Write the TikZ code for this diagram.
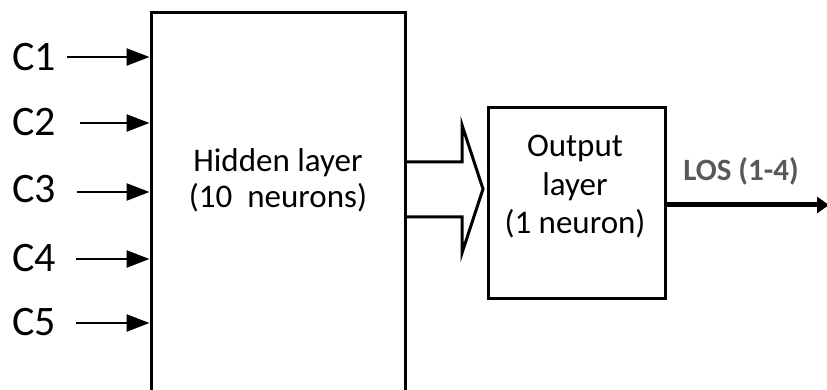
\documentclass[tikz,border=0pt]{standalone}
\usepackage{fontspec}
\setmainfont{Carlito}
\usetikzlibrary{arrows.meta,calc}
\definecolor{losgray}{HTML}{595959}
\begin{document}
\begin{tikzpicture}[x=1pt,y=-1pt,
  layerbox/.style={draw, line width=3pt, fill=none, inner sep=0pt},
  inlabel/.style={font=\fontsize{42}{46}\selectfont, anchor=center, inner sep=0pt},
  boxtext/.style={align=center, inner sep=0pt},
  inarrow/.style={line width=2.5pt, -{Triangle[length=23pt,width=17pt]}},
  outarrow/.style={line width=5pt, -{Triangle[length=12pt,width=16pt]}}
]
\useasboundingbox (0,0) rectangle (827,390);

% layer boxes
\node[layerbox, minimum width=254pt, minimum height=392pt] (hidden) at (278,209) {};
\node[layerbox, minimum width=177pt, minimum height=190pt] (out) at (576.5,203) {};

% box texts
\node[boxtext, font=\fontsize{33}{36}\selectfont] (hiddentxt) at (278,180) {Hidden layer\\(10~~neurons)};
\node[boxtext, font=\fontsize{33}{38.5}\selectfont] (outtxt) at (575,187) {Output\\layer\\(1 neuron)};

% inputs
\node[inlabel] (c1) at (34,57) {C1};
\node[inlabel] (c2) at (34,122) {C2};
\node[inlabel] (c3) at (34,189) {C3};
\node[inlabel] (c4) at (34,258) {C4};
\node[inlabel] (c5) at (34,322) {C5};

\coordinate (s1) at (67,57);
\coordinate (s2) at (80,123);
\coordinate (s3) at (77,192);
\coordinate (s4) at (76,259);
\coordinate (s5) at (76,323);

\foreach \i in {1,...,5}
  \draw[inarrow] (s\i) -- (s\i -| hidden.west);

% hollow block arrow from the hidden layer to the output layer
\draw[line width=3pt, line join=miter]
  (hidden.east |- 0,162) -- (462,162) -- (462,125) -- (483,189)
  -- (462,253) -- (462,217) -- (hidden.east |- 0,217);

% output
\coordinate (los) at (829,205);
\draw[outarrow] (out.east |- los) -- (los);
\node[font=\fontsize{31}{34}\selectfont\bfseries, text=losgray, inner sep=0pt] (loslabel) at (741,171) {LOS (1-4)};
\end{tikzpicture}
\end{document}
